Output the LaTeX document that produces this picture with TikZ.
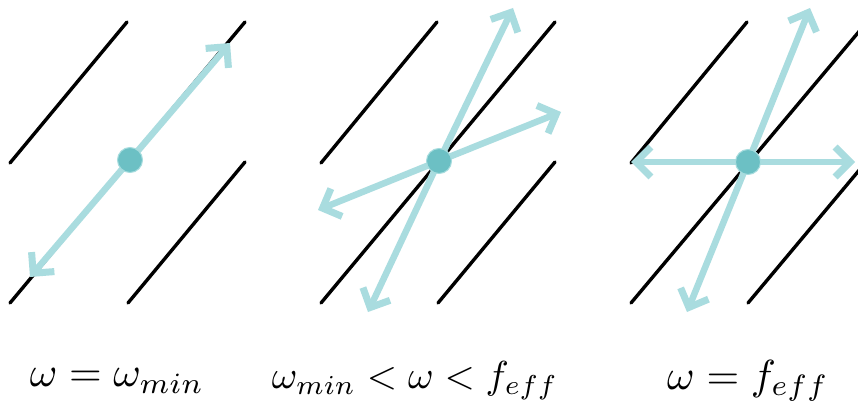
\documentclass[tikz,border=0pt]{standalone}
\usepackage{graphicx}
\usetikzlibrary{arrows.meta}
\definecolor{arrowc}{HTML}{A9DCDF}
\definecolor{dotc}{HTML}{6CC0C4}
\definecolor{dotedge}{HTML}{A6DCDE}
\newcommand{\biglab}[2][4.2]{\scalebox{#1}{$#2$}}
\begin{document}
\begin{tikzpicture}[x=1pt,y=-1pt,
  wall/.style={line width=3.4pt,black,line cap=round},
  ray/.style={line width=6.5pt,arrowc,-{Straight Barb[length=15pt,width=30pt,line width=7pt]},line cap=round},
  dotstyle/.style={circle,fill=dotc,draw=dotedge,line width=1pt,minimum size=25pt,inner sep=0pt},
  lab/.style={inner sep=0pt}]
\useasboundingbox (0,0) rectangle (858,403);
\fill[white] (0,0) rectangle (858,403);
% ---------- panel 1 ----------
\coordinate (a1s) at (127,22); \coordinate (a1e) at (10,163);
\coordinate (b1s) at (245,22); \coordinate (b1e) at (10,303);
\coordinate (c1s) at (245,162); \coordinate (c1e) at (128,303);
\draw[wall] (a1s) -- (a1e);
\draw[wall] (b1s) -- (b1e);
\draw[wall] (c1s) -- (c1e);
\coordinate (o1) at (130,160);
\coordinate (t1u) at (230,43); \coordinate (t1d) at (30,277);
\draw[ray] (o1) -- (t1u);
\draw[ray] (o1) -- (t1d);
\node[dotstyle] (d1) at (o1) {};
% ---------- panel 2 ----------
\coordinate (a2s) at (437,22); \coordinate (a2e) at (321,163);
\coordinate (b2s) at (555,22); \coordinate (b2e) at (321,303);
\coordinate (c2s) at (555,162); \coordinate (c2e) at (438,303);
\draw[wall] (a2s) -- (a2e);
\draw[wall] (b2s) -- (b2e);
\draw[wall] (c2s) -- (c2e);
\coordinate (o2) at (439,161);
\coordinate (t2u) at (513,8); \coordinate (t2r) at (561,112);
\coordinate (t2l) at (318,210); \coordinate (t2d) at (368,312);
\draw[ray] (o2) -- (t2u);
\draw[ray] (o2) -- (t2r);
\draw[ray] (o2) -- (t2l);
\draw[ray] (o2) -- (t2d);
\node[dotstyle] (d2) at (o2) {};
% ---------- panel 3 ----------
\coordinate (a3s) at (747,22); \coordinate (a3e) at (631,163);
\coordinate (b3s) at (867,22); \coordinate (b3e) at (631,303);
\coordinate (c3s) at (866,162); \coordinate (c3e) at (748,303);
\draw[wall] (a3s) -- (a3e);
\draw[wall] (b3s) -- (b3e);
\draw[wall] (c3s) -- (c3e);
\coordinate (o3) at (748,162);
\coordinate (t3u) at (810,8); \coordinate (t3r) at (855,162);
\coordinate (t3l) at (631,162); \coordinate (t3d) at (687,312);
\draw[ray] (o3) -- (t3u);
\draw[ray] (o3) -- (t3r);
\draw[ray] (o3) -- (t3l);
\draw[ray] (o3) -- (t3d);
\node[dotstyle] (d3) at (o3) {};
% ---------- labels ----------
\node[lab] (l1) at (117,381) {\biglab{\omega = \omega_{min}}};
\node[lab] (l2) at (415,381) {\biglab[3.9]{\omega_{min} < \omega < f_{eff}}};
\node[lab] (l3) at (748,381) {\biglab{\omega = f_{eff}}};
\end{tikzpicture}
\end{document}
